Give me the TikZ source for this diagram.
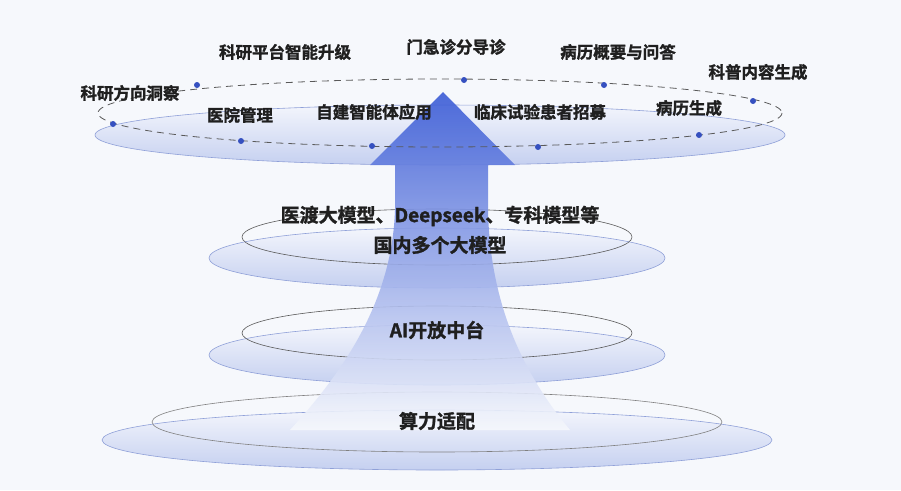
\documentclass[tikz,border=0pt]{standalone}
\usepackage{fontspec}
\newfontfamily\cjk{Noto Sans CJK SC}[BoldFont={Noto Sans CJK SC Bold},BoldFeatures={FakeBold=1.5}]
\begin{document}
\begin{tikzpicture}[x=1pt,y=-1pt,
  disk/.style={draw=dk,line width=0.6pt,top color=dtop,bottom color=dbot},
  ring/.style={draw=black!65,line width=0.6pt},
  lbl/.style={font=\cjk\bfseries\fontsize{16.5}{19}\selectfont,text=black!88},
  big/.style={font=\cjk\bfseries\fontsize{19}{22}\selectfont,text=black!88},
  dot/.style={circle,fill=dotc,inner sep=0pt,minimum size=6pt}]
\definecolor{bg}{HTML}{F6F8FC}
\definecolor{arr}{HTML}{3A5BD6}
\definecolor{dk}{HTML}{8FA0D8}
\definecolor{dtop}{HTML}{F3F5FC}
\definecolor{dbot}{HTML}{C5D0F0}
\definecolor{dotc}{HTML}{3550C0}
\fill[bg] (0,0) rectangle (901,490);
\useasboundingbox (0,0) rectangle (901,490);
% layer 3
\path[disk] (437,440) ellipse [x radius=335,y radius=30];
\draw[ring,draw=black!50] (437,422) ellipse [x radius=285,y radius=30];
% layer 2
\path[disk] (437,355) ellipse [x radius=228,y radius=30];
\draw[ring] (437,333) ellipse [x radius=195,y radius=27];
% layer 1
\path[disk] (437,258) ellipse [x radius=228,y radius=30];
\draw[ring] (437,237) ellipse [x radius=195,y radius=28];
% top disk
\path[disk] (440,135) ellipse [x radius=345,y radius=30];
% arrow
\shade[top color=arr,middle color=arr!55!white,bottom color=bg,opacity=0.9]
  (443,92) -- (515,165) -- (488,165) -- (488,210)
  .. controls (490,300) and (520,370) .. (570,430) -- (290,430)
  .. controls (345,370) and (392,300) .. (395,210) -- (395,165) -- (370,165) -- cycle;
% dashed ring
\draw[draw=black!65,line width=0.8pt,dash pattern=on 7pt off 5pt] (440,113) ellipse [x radius=342,y radius=34];
\foreach \n/\x/\y in {d1/113/124,d2/197/85,d3/241/141,d4/372/146,d5/464/80,d6/538/147,d7/604/85,d8/699/135,d9/753/101}
  \node[dot] (\n) at (\x,\y) {};
% labels
\node[lbl] (t1) at (285,52) {科研平台智能升级};
\node[lbl] (t2) at (456,47) {门急诊分导诊};
\node[lbl] (t3) at (618,52) {病历概要与问答};
\node[lbl] (t4) at (758,72) {科普内容生成};
\node[lbl] (t5) at (130,93) {科研方向洞察};
\node[lbl] (t6) at (240,115) {医院管理};
\node[lbl] (t7) at (374,112) {自建智能体应用};
\node[lbl] (t8) at (540,112) {临床试验患者招募};
\node[lbl] (t9) at (689,108) {病历生成};
\node[big] (m1) at (440,216) {医渡大模型、Deepseek、专科模型等};
\node[big] (m2) at (440,245) {国内多个大模型};
\node[big] (m3) at (437,330) {AI开放中台};
\node[big] (m4) at (437,421) {算力适配};
\end{tikzpicture}
\end{document}
